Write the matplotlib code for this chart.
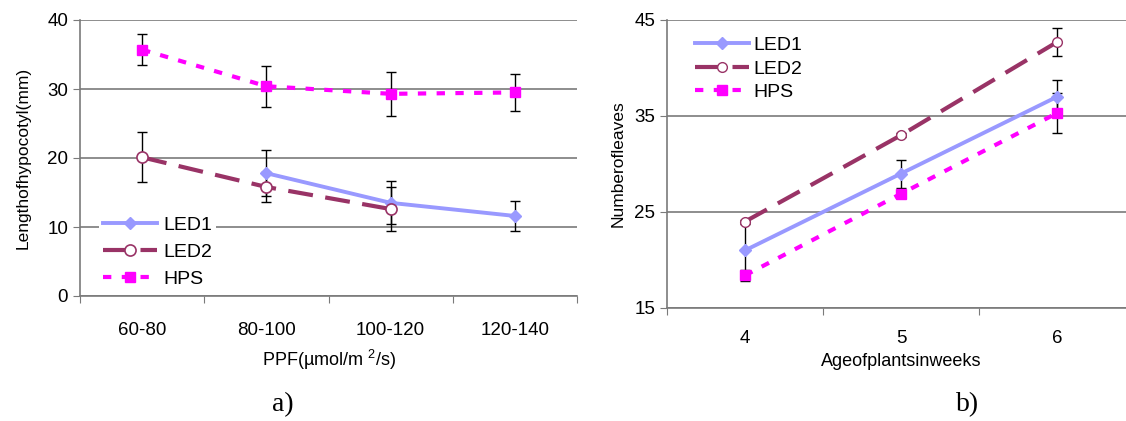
"""
Hypocotyl length and leaf number under LED1, LED2 and HPS lighting.
"""
import matplotlib
matplotlib.use("Agg")
import matplotlib.pyplot as plt

plt.rcParams['font.family'] = ['Liberation Sans', 'DejaVu Sans']
plt.rcParams['mathtext.default'] = 'regular'

# panel a) hypocotyl length vs PPF
ppf_labels = ["60-80", "80-100", "100-120", "120-140"]
a_led1_x = [2, 3, 4]
a_led1 = [17.8, 13.5, 11.6]
a_led1_err = [3.3, 3.1, 2.2]
a_led2_x = [1, 2, 3]
a_led2 = [20.1, 15.8, 12.6]
a_led2_err = [3.6, 2.2, 3.2]
a_hps_x = [1, 2, 3, 4]
a_hps = [35.7, 30.4, 29.3, 29.5]
a_hps_err = [2.2, 3.0, 3.2, 2.7]

# panel b) number of leaves vs age
weeks = [4, 5, 6]
b_led1 = [21.0, 29.0, 37.0]
b_led1_err = [3.0, 1.45, 1.7]
b_led2 = [24.0, 33.0, 42.7]
b_led2_err = [0.2, 0.2, 1.5]
b_hps = [18.4, 26.9, 35.3]
b_hps_err = [0.6, 0.0, 2.1]

C_LED1 = "#9999FF"
C_LED2 = "#993366"
C_HPS = "#FF00FF"
GRID = "#7a7a7a"

W, H = 1126, 421
fig = plt.figure(figsize=(W / 100, H / 100), dpi=100)
ax1 = fig.add_axes([80 / W, 1 - 296 / H, 497 / W, 276 / H])
ax2 = fig.add_axes([667 / W, 1 - 308 / H, 468 / W, 288 / H])


def draw_series(ax, x, y, err, style):
    ax.errorbar(x, y, yerr=err, fmt="none", ecolor="black", elinewidth=1,
                capsize=3.5, capthick=1, zorder=3)
    ax.plot(x, y, zorder=4, **style)


def style_axes(ax, pad):
    for side in ("top", "right"):
        ax.spines[side].set_visible(False)
    for side in ("left", "bottom"):
        ax.spines[side].set_color(GRID)
        ax.spines[side].set_linewidth(1.2)
    ax.tick_params(axis="both", which="major", direction="out", length=5,
                   color=GRID, labelsize=13.5)
    ax.tick_params(axis="x", which="minor", length=0, labelsize=13.5, pad=pad)
    ax.yaxis.grid(True, color=GRID, linewidth=1.2)
    ax.set_axisbelow(True)


led1_style = dict(color=C_LED1, lw=2.8, marker="D", ms=6, mfc=C_LED1,
                  mec=C_LED1, label="LED1")
led2_style = dict(color=C_LED2, lw=3, ls=(0, (6, 3)), marker="o", ms=8,
                  mfc="white", mec=C_LED2, mew=1.2, label="LED2")
hps_style = dict(color=C_HPS, lw=3, ls=(0, (2, 2.5)), marker="s", ms=7.5,
                 mfc=C_HPS, mec=C_HPS, label="HPS")

# ---- panel a)
draw_series(ax1, a_led1_x, a_led1, a_led1_err, led1_style)
draw_series(ax1, a_led2_x, a_led2, a_led2_err, led2_style)
draw_series(ax1, a_hps_x, a_hps, a_hps_err, hps_style)
ax1.set_xlim(0.5, len(ppf_labels) + 0.5)
ax1.set_ylim(0, 40)
ax1.set_yticks([0, 10, 20, 30, 40])
ax1.set_xticks([i + 0.5 for i in range(len(ppf_labels) + 1)])
ax1.set_xticklabels([])
ax1.set_xticks(range(1, len(ppf_labels) + 1), ppf_labels, minor=True)
style_axes(ax1, 19)
ax1.set_ylabel("Lengthofhypocotyl(mm)", fontsize=12.5, labelpad=12)
ax1.set_xlabel(r"PPF(µmol/m $^{2}$/s)", fontsize=13, labelpad=6)
leg1 = ax1.legend(loc="lower left", bbox_to_anchor=(0.03, 0.0), frameon=True,
                  fontsize=14, handlelength=2.8, handletextpad=0.3,
                  labelspacing=0.5, borderpad=0.2, borderaxespad=0.2)
leg1.get_frame().set_edgecolor("none")
leg1.get_frame().set_facecolor("white")
leg1.get_frame().set_alpha(1)

# ---- panel b)
draw_series(ax2, weeks, b_led1, b_led1_err, led1_style)
draw_series(ax2, weeks, b_led2, b_led2_err, dict(led2_style, ms=7, mew=1))
draw_series(ax2, weeks, b_hps, b_hps_err, hps_style)
ax2.set_xlim(weeks[0] - 0.5, weeks[-1] + 0.5)
ax2.set_ylim(15, 45)
ax2.set_yticks([15, 25, 35, 45])
ax2.set_xticks([w - 0.5 for w in weeks] + [weeks[-1] + 0.5])
ax2.set_xticklabels([])
ax2.set_xticks(weeks, [str(w) for w in weeks], minor=True)
style_axes(ax2, 16)
ax2.set_ylabel("Numberofleaves", fontsize=12.5, labelpad=6)
ax2.set_xlabel("Ageofplantsinweeks", fontsize=13, labelpad=4)
leg2 = ax2.legend(loc="upper left", bbox_to_anchor=(0.03, 0.99), frameon=False,
                  fontsize=14, handlelength=2.8, handletextpad=0.2,
                  labelspacing=0.3, borderpad=0.2)

fig.text(283 / W, 1 - 405 / H, "a)", family=["Liberation Serif", "DejaVu Serif"],
         fontsize=20, ha="center", va="center")
fig.text(968 / W, 1 - 405 / H, "b)", family=["Liberation Serif", "DejaVu Serif"],
         fontsize=20, ha="center", va="center")

fig.savefig("out.png", dpi=100)
